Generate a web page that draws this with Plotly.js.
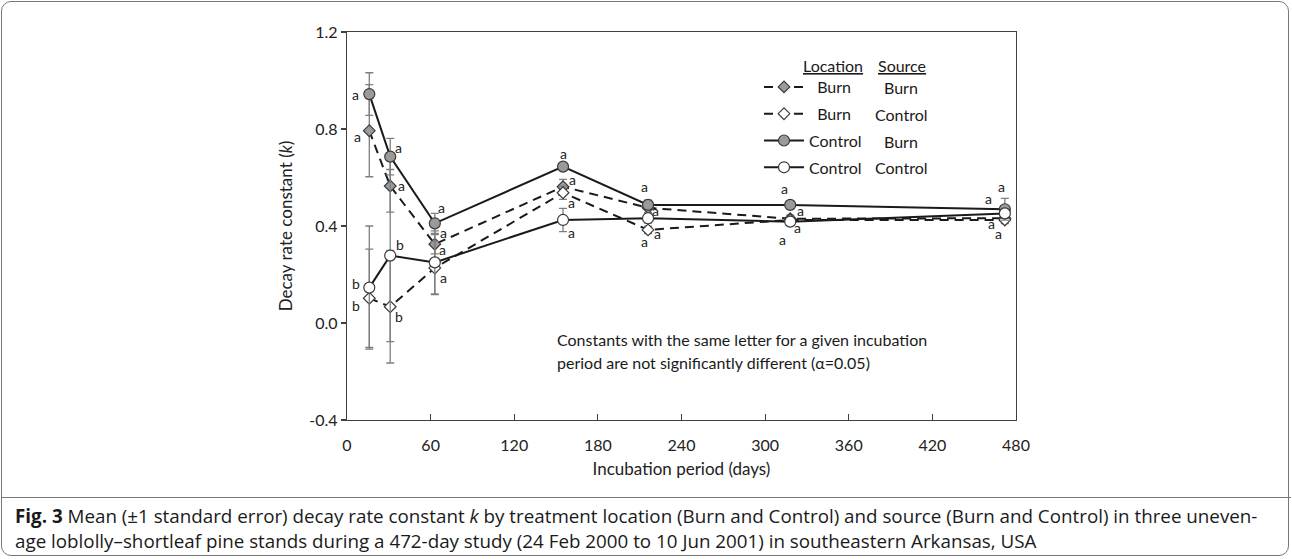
<!DOCTYPE html>
<html><head><meta charset="utf-8">
<script src="https://cdn.plot.ly/plotly-3.0.1.min.js"></script>
<style>
html,body{margin:0;padding:0;background:#fff;}
#wrap{position:relative;width:1292px;height:559px;overflow:hidden;background:#fff;}
#chart{position:absolute;left:0;top:0;width:1292px;height:559px;}
#frame{position:absolute;left:1px;top:1px;width:1286px;height:553px;border:1.5px solid #777;border-radius:10px;pointer-events:none;}
#divider{position:absolute;left:1px;top:497px;width:1290px;height:0;border-top:1.5px solid #777;pointer-events:none;}
</style></head>
<body><div id="wrap"><div id="chart"></div><div id="frame"></div><div id="divider"></div></div>
<script>
// ---- data ----
const days = [16, 31, 63, 155, 216, 318, 472];
const burnBurn = [0.793, 0.565, 0.325, 0.562, 0.475, 0.430, 0.432];
const burnBurnErr = [0.19, 0.108, 0.04, 0.03, 0.02, 0.015, 0.015];
const burnControl = [0.102, 0.067, 0.227, 0.537, 0.384, 0.425, 0.425];
const burnControlErr = [0.203, 0.232, 0.11, 0.027, 0.015, 0.015, 0.015];
const controlBurn = [0.944, 0.686, 0.411, 0.645, 0.487, 0.487, 0.469];
const controlBurnErr = [0.088, 0.075, 0.041, 0.01, 0.02, 0.01, 0.045];
const controlControl = [0.146, 0.278, 0.250, 0.425, 0.432, 0.418, 0.452];
const controlControlErr = [0.254, 0.355, 0.13, 0.048, 0.02, 0.015, 0.02];
const lettersBB = ["a","a","a","a","a","a","a"];
const lettersBC = ["b","b","a","a","a","a","a"];
const lettersCB = ["a","a","a","a","a","a","a"];
const lettersCC = ["b","b","a","a","a","a","a"];
const xTickVals = [0, 60, 120, 180, 240, 300, 360, 420, 480];
const yTickVals = [-0.4, 0.0, 0.4, 0.8, 1.2];
const yTickLabels = ["-0.4", "0.0", "0.4", "0.8", "1.2"];
const legendLocation = ["Burn", "Burn", "Control", "Control"];
const legendSource = ["Burn", "Control", "Burn", "Control"];

// ---- styling / layout helpers ----
const L = 347, R = 1016, T = 32, B = 420;
const xp = X => (X - L) / (R - L);
const yp = Y => (B - Y) / (B - T);
const FONT = "Lato, 'Open Sans', sans-serif";
const lineCol = '#1a1a1a', errCol = '#7f7f7f';

// label pixel offsets [dx, dy] (dy down positive)
const offBB = [[-12,6],[11,0],[9,-12],[9,-7],[7,3],[10,-8],[-13,5]];
const offBC = [[-13,7],[9,10],[9,10],[8,10],[-4,12],[-8,20],[-6,14]];
const offCB = [[-14,0],[8,-9],[7,-16],[0,-13],[-4,-18],[-6,-16],[-3,-23]];
const offCC = [[-13,-4],[10,-11],[8,-13],[8,13],[9,15],[7,6],[-16,-15]];

function mk(name, y, err, dash, symbol, fill, group) {
  return {
    type: 'scatter', mode: 'lines+markers', x: days, y: y, name: name,
    legendgroup: group,
    line: {color: lineCol, width: 2, dash: dash},
    marker: {symbol: symbol, size: symbol === 'circle' ? 11 : 9, color: fill, line: {color: '#3a3a3a', width: 1.2}},
    error_y: {type: 'data', array: err, visible: true, color: errCol, thickness: 1.3, width: 4},
    hoverinfo: 'x+y'
  };
}
const pad = n => '\u00A0'.repeat(n);
const traces = [
  mk(pad(2) + legendLocation[0], burnBurn, burnBurnErr, '9px,6px', 'diamond', '#9a9a9a', 'g1'),
  mk(pad(2) + legendLocation[1], burnControl, burnControlErr, '9px,6px', 'diamond', '#ffffff', 'g2'),
  mk(legendLocation[2], controlBurn, controlBurnErr, 'solid', 'circle', '#9a9a9a', 'g3'),
  mk(legendLocation[3], controlControl, controlControlErr, 'solid', 'circle', '#ffffff', 'g4')
];

const ann = [];
function letters(vals, lets, offs) {
  for (let i = 0; i < days.length; i++) {
    ann.push({x: days[i], y: vals[i], xref: 'x', yref: 'y', text: lets[i], showarrow: false,
      xshift: offs[i][0], yshift: -offs[i][1], xanchor: 'center', yanchor: 'middle',
      font: {family: FONT, size: 14, color: '#222'}});
  }
}
letters(burnBurn, lettersBB, offBB);
letters(burnControl, lettersBC, offBC);
letters(controlBurn, lettersCB, offCB);
letters(controlControl, lettersCC, offCC);

// legend headers and source column
const txt = (X, Y, t, anchor, size, fam) => ({x: xp(X), y: yp(Y), xref: 'paper', yref: 'paper', text: t,
  showarrow: false, xanchor: anchor, yanchor: 'middle', font: {family: fam || FONT, size: size || 16, color: '#1a1a1a'}});
ann.push(txt(833, 65, '<u>Location</u>', 'center'));
ann.push(txt(902, 65, '<u>Source</u>', 'center'));
const rowY = [87.3, 114, 141, 167.7];
for (let i = 0; i < 4; i++) ann.push(txt(901, rowY[i], legendSource[i], 'center'));

// note
ann.push(txt(555, 339, 'Constants with the same letter for a given incubation', 'left'));
ann.push(txt(555, 362, 'period are not significantly different (\u03B1=0.05)', 'left'));

// caption
const CAPF = "'Open Sans', 'Noto Sans', sans-serif";
ann.push(txt(13, 516, '<b>Fig. 3</b> Mean (\u00B11 standard error) decay rate constant <i>k</i> by treatment location (Burn and Control) and source (Burn and Control) in three uneven-', 'left', 18.8, CAPF));
ann.push(txt(13, 541, 'age loblolly\u2013shortleaf pine stands during a 472-day study (24 Feb 2000 to 10 Jun 2001) in southeastern Arkansas, USA', 'left', 18.8, CAPF));

const axCol = '#404040';
const layout = {
  width: 1292, height: 559,
  margin: {l: L, r: 1292 - R, t: T, b: 559 - B},
  paper_bgcolor: 'rgba(0,0,0,0)', plot_bgcolor: '#fff',
  font: {family: FONT, size: 16, color: '#222'},
  showlegend: true,
  legend: {x: xp(759), y: yp(70), xanchor: 'left', yanchor: 'top', bgcolor: 'rgba(0,0,0,0)',
    font: {family: FONT, size: 16, color: '#1a1a1a'}, traceorder: 'grouped', tracegroupgap: 3, itemwidth: 40},
  xaxis: {range: [0, 480], tickvals: xTickVals, ticks: 'inside', ticklen: 6, tickcolor: axCol, tickwidth: 1.2,
    showline: true, linecolor: axCol, linewidth: 1.3, mirror: true, showgrid: false, zeroline: false,
    tickfont: {family: FONT, size: 16, color: '#222'}, ticklabelstandoff: 10,
    title: {text: 'Incubation period (days)', font: {family: FONT, size: 17, color: '#222'}, standoff: 10}},
  yaxis: {range: [-0.4, 1.2], tickvals: yTickVals, ticktext: yTickLabels, ticks: 'outside', ticklen: 5,
    tickcolor: axCol, tickwidth: 1.2, showline: true, linecolor: axCol, linewidth: 1.3, mirror: true,
    showgrid: false, zeroline: false, tickfont: {family: FONT, size: 16, color: '#222'},
    title: {text: 'Decay rate constant (<i>k</i>)', font: {family: FONT, size: 17, color: '#222'}, standoff: 12}},
  yaxis2: {overlaying: 'y', side: 'left', range: [-0.4, 1.2], tickvals: yTickVals, ticks: 'inside', ticklen: 6,
    tickcolor: axCol, tickwidth: 1.2, showticklabels: false, showline: false, showgrid: false, zeroline: false},
  annotations: ann
};
Plotly.newPlot('chart', traces, layout, {staticPlot: true});
</script></body></html>
